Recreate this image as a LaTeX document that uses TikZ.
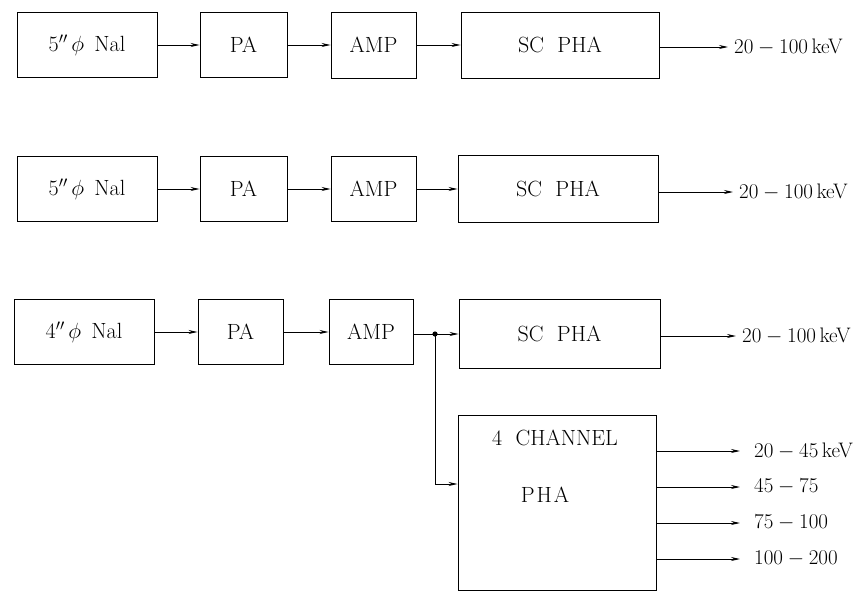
\documentclass[tikz,border=0pt]{standalone}
\usepackage{fix-cm}
\usepackage{fontspec}
\usetikzlibrary{arrows.meta}
\begin{document}
\begin{tikzpicture}[x=1pt,y=-1pt,
  box/.style={draw,line width=0.9pt,inner sep=0pt,font=\fontsize{22}{26}\selectfont},
  conn/.style={line width=0.9pt,-{Stealth[length=9pt,width=4pt]}},
  lbl/.style={anchor=west,inner sep=0pt,font=\fontsize{21}{25}\selectfont}]
\useasboundingbox (0,0) rectangle (864,592);
% row 1
\node[box,minimum width=140,minimum height=65] (n1) at (87,45) {$5''\,\phi$\ \,Nal};
\node[box,minimum width=87,minimum height=65] (p1) at (243.5,45) {PA};
\node[box,minimum width=85,minimum height=66] (a1) at (373.5,45) {AMP};
\node[box,minimum width=198,minimum height=66] (s1) at (560,45) {SC\ \ PHA};
\node[lbl] (l1) at (734,47) {$20-100$\,keV};
\draw[conn] (n1) -- (p1);
\draw[conn] (p1) -- (a1);
\draw[conn] (a1) -- (s1);
\draw[conn] (s1.east |- l1.west) -- ([xshift=-6pt]l1.west);
% row 2
\node[box,minimum width=140,minimum height=65] (n2) at (87,189) {$5''\,\phi$\ \,Nal};
\node[box,minimum width=87,minimum height=65] (p2) at (243.5,189) {PA};
\node[box,minimum width=85,minimum height=65] (a2) at (373.5,189) {AMP};
\node[box,minimum width=200,minimum height=67] (s2) at (558,189) {SC\ \ PHA};
\node[lbl] (l2) at (739,192) {$20-100$\,keV};
\draw[conn] (n2) -- (p2);
\draw[conn] (p2) -- (a2);
\draw[conn] (a2) -- (s2);
\draw[conn] (s2.east |- l2.west) -- ([xshift=-6pt]l2.west);
% row 3
\node[box,minimum width=140,minimum height=65] (n3) at (84,332) {$4''\,\phi$\ \,Nal};
\node[box,minimum width=85,minimum height=65] (p3) at (240.5,332) {PA};
\node[box,minimum width=84,minimum height=65] (a3) at (371,332) {AMP};
\node[box,minimum width=201,minimum height=69] (s3) at (559.5,334) {SC\ \ PHA};
\node[lbl] (l3) at (742,336) {$20-100$\,keV};
\coordinate (j) at (435,334);
\draw[conn] (n3) -- (p3);
\draw[conn] (p3) -- (a3);
\draw[line width=0.9pt] (a3.east |- j) -- (j);
\fill (j) circle (2.6pt);
\draw[conn] (j) -- (s3.west |- j);
\draw[conn] (s3.east |- l3.west) -- ([xshift=-6pt]l3.west);
% 4 channel
\node[box,minimum width=198,minimum height=175] (c4) at (557,502.5) {};
\node[inner sep=0pt,font=\fontsize{22}{26}\selectfont] (c4a) at (555,438) {4\ \ CHANNEL};
\node[inner sep=0pt,font=\fontsize{22}{26}\selectfont] (c4b) at (545,495) {P\kern2pt H\kern2pt A};
\coordinate (k) at (435,484);
\draw[conn] (j) -- (k) -- (c4.west |- k);
\node[lbl] (o1) at (754,451) {$20-45$\,keV};
\node[lbl] (o2) at (754,487) {$45-75$};
\node[lbl] (o3) at (754,523) {$75-100$};
\node[lbl] (o4) at (754,559) {$100-200$};
\foreach \o in {o1,o2,o3,o4}
  \draw[conn] (c4.east |- \o.west) -- ([xshift=-14pt]\o.west);
\end{tikzpicture}
\end{document}
